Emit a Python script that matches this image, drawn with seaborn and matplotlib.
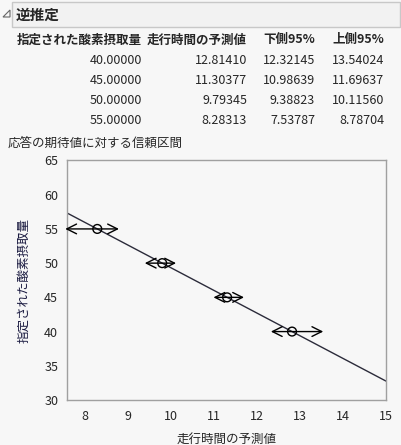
import numpy as np
import pandas as pd
import seaborn as sns
import matplotlib.pyplot as plt
from matplotlib.patches import Rectangle, Polygon

# ------------------- Data --------------------
target_y = [40.0, 45.0, 50.0, 55.0]
pred_x = [12.81410, 11.30377, 9.79345, 8.28313]
lower_95 = [12.32145, 10.98639, 9.38823, 7.53787]
upper_95 = [13.54024, 11.69637, 10.11560, 8.78704]

col_headers = ["指定された酸素摂取量", "走行時間の予測値", "下側95%", "上側95%"]
x_ticks = [8, 9, 10, 11, 12, 13, 14, 15]
y_ticks = [30, 35, 40, 45, 50, 55, 60, 65]

df = pd.DataFrame({"y": target_y, "x": pred_x, "lo": lower_95, "hi": upper_95})

# ------------------- Style --------------------
bg = "#f7f7f7"
sns.set_style("white")
plt.rcParams["font.family"] = ["Noto Sans CJK JP", "DejaVu Sans"]

W, H = 401, 445
fig = plt.figure(figsize=(W / 100, H / 100), dpi=100, facecolor=bg)


def fx(px):
    return px / W


def fy(py):
    return 1 - py / H


# header box with disclosure triangle
fig.patches.append(Rectangle((fx(12), fy(27)), fx(388), 25 / H, transform=fig.transFigure,
                             facecolor="#f2f2f2", edgecolor="#c8c8c8", lw=1))
fig.patches.append(Polygon([(fx(3), fy(17)), (fx(10), fy(17)), (fx(10), fy(10))], closed=True,
                           transform=fig.transFigure, facecolor="none", edgecolor="#666666", lw=0.8))
fig.text(fx(16), fy(14.5), "逆推定", fontsize=10.5, fontweight="bold", va="center", ha="left")

# table
col_right = [142, 247, 315, 384]
for cx, h in zip(col_right, col_headers):
    fig.text(fx(cx), fy(40), h, fontsize=9, fontweight="bold", ha="right", va="center")
for i, row in df.iterrows():
    vals = [f"{row.y:.5f}", f"{row.x:.5f}", f"{row.lo:.5f}", f"{row.hi:.5f}"]
    for cx, v in zip(col_right, vals):
        fig.text(fx(cx), fy(60 + 20 * i), v, fontsize=9, ha="right", va="center")

fig.text(fx(8), fy(143), "応答の期待値に対する信頼区間", fontsize=9, ha="left", va="center")

# ------------------- Plot --------------------
ax = fig.add_axes([fx(66.5), fy(400), fx(386 - 66.5), (400 - 160.5) / H])
ax.set_facecolor(bg)

xlim = (7.567, 15)
slope, intercept = np.polyfit(df["x"], df["y"], 1)
line_x = np.linspace(xlim[0], xlim[1], 50)
line_df = pd.DataFrame({"x": line_x, "y": intercept + slope * line_x})
sns.lineplot(data=line_df, x="x", y="y", color="#2b2b3a", lw=1, ax=ax)

for _, row in df.iterrows():
    ax.annotate("", xy=(row.lo, row.y), xytext=(row.hi, row.y),
                arrowprops=dict(arrowstyle="<->,head_length=0.7,head_width=0.35", color="black", lw=1,
                                shrinkA=0, shrinkB=0), annotation_clip=False)

sns.scatterplot(data=df, x="x", y="y", marker="o", s=40, facecolor="none", edgecolor="black",
                linewidth=1, ax=ax, zorder=5)

ax.set_xlim(*xlim)
ax.set_ylim(30, 65)
ax.set_xticks(x_ticks)
ax.set_yticks(y_ticks)
for s in ax.spines.values():
    s.set_color("#a0a0a0")
    s.set_linewidth(1)
ax.tick_params(axis="both", length=4, color="#a0a0a0", labelsize=9, direction="out", pad=2)
ax.tick_params(axis="x", pad=3)
ax.set_xlabel("走行時間の予測値", fontsize=9, labelpad=7)
ax.set_ylabel("指定された酸素摂取量", fontsize=9, labelpad=10, color="#1a1a40")

fig.savefig("out.png", dpi=100, facecolor=bg)
